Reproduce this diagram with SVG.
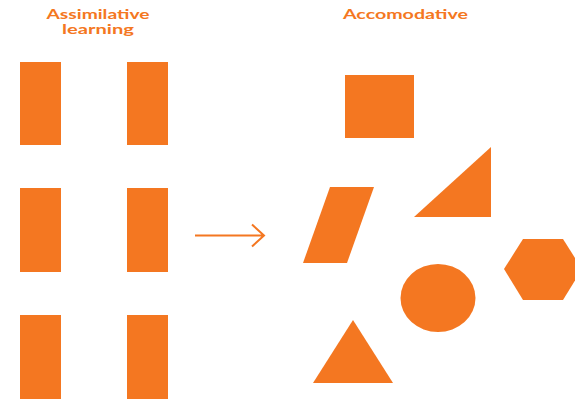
<svg xmlns="http://www.w3.org/2000/svg" width="575" height="399" viewBox="0 0 575 399">
<style>
.s{fill:#F47721}
.t{fill:#F47721;font-family:Lato,"Open Sans",sans-serif;font-weight:bold;font-size:12.5px;text-anchor:middle}
.c{stroke:#F47721;stroke-width:2;fill:none}
</style>
<rect width="575" height="399" fill="#fff"/>
<g id="title-left"><text class="t" x="98" y="19" textLength="103" lengthAdjust="spacingAndGlyphs">Assimilative</text><text class="t" x="98" y="34" textLength="72" lengthAdjust="spacingAndGlyphs">learning</text></g>
<g id="title-right"><text class="t" x="405.5" y="19" textLength="125" lengthAdjust="spacingAndGlyphs">Accomodative</text></g>
<g id="rect-1"><rect class="s" x="20" y="62" width="41" height="83"/></g>
<g id="rect-2"><rect class="s" x="127" y="62" width="41" height="83"/></g>
<g id="rect-3"><rect class="s" x="20" y="188" width="41" height="84"/></g>
<g id="rect-4"><rect class="s" x="127" y="188" width="41" height="84"/></g>
<g id="rect-5"><rect class="s" x="20" y="315" width="41" height="84"/></g>
<g id="rect-6"><rect class="s" x="127" y="315" width="41" height="84"/></g>
<g id="connectors"><path class="c" d="M195 235.5H264M252 224.5L264 235.5L252 246.5"/></g>
<g id="square"><rect class="s" x="345" y="75" width="69" height="63"/></g>
<g id="parallelogram"><polygon class="s" points="330,187 374,187 347,263 303,263"/></g>
<g id="right-triangle"><polygon class="s" points="491,147 491,217 414,217"/></g>
<g id="hexagon"><polygon class="s" points="504,269 523,239 563,239 582,269 563,300 523,300"/></g>
<g id="circle"><ellipse class="s" cx="438" cy="298" rx="37.5" ry="34"/></g>
<g id="triangle"><polygon class="s" points="353,320 393,383 313,383"/></g>
</svg>
